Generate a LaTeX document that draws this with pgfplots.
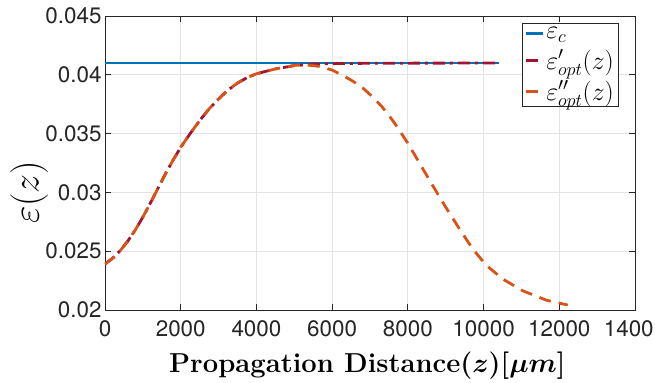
\RequirePackage{fix-cm}
\documentclass[border=0pt]{standalone}
\usepackage{fontspec}
\usepackage{pgfplots}
\pgfplotsset{compat=1.18}
\newfontfamily\helv{TeX Gyre Heros}
\definecolor{mblue}{HTML}{0072BD}
\definecolor{mred}{HTML}{A2142F}
\definecolor{morange}{HTML}{D95319}
\definecolor{axgray}{HTML}{262626}
\definecolor{grgray}{HTML}{E3E3E3}
\begin{document}
\begin{tikzpicture}
\begin{axis}[
  scale only axis,
  width=530bp, height=294bp,
  xmin=0, xmax=14000, ymin=0.02, ymax=0.045,
  xtick={0,2000,4000,6000,8000,10000,12000,14000},
  xticklabels={0,2000,4000,6000,8000,10000,12000,1400\phantom{0}},
  ytick={0.02,0.025,0.03,0.035,0.04,0.045},
  yticklabels={0.02,0.025,0.03,0.035,0.04,0.045},
  scaled x ticks=false, scaled y ticks=false,
  tick align=inside,
  major tick length=6bp,
  xtick pos=both, ytick pos=both,
  grid=major,
  major grid style={grgray, line width=0.8bp},
  axis line style={axgray, line width=0.9bp},
  tick style={axgray, line width=0.9bp},
  ticklabel style={font=\fontsize{22.5}{26}\helv, text=axgray},
  xticklabel style={yshift=-7bp},
  xlabel={\textbf{Propagation Distance}{\boldmath$(z)[\mu m]$}},
  xlabel style={font=\fontsize{27.5}{32}\selectfont, at={(axis description cs:0.495,-0.213)}, anchor=base},
  ylabel={$\varepsilon(z)$},
  ylabel style={font=\fontsize{38}{42}\selectfont, at={(axis description cs:-0.143,0.40)}, anchor=center},
  legend style={at={(axis description cs:0.968,0.976)}, anchor=north east,
    draw=axgray, font=\fontsize{26}{30}\selectfont,
    inner xsep=2pt, inner ysep=2pt, row sep=6bp},
  legend cell align=left,
]
\addplot[mblue, line width=2.6bp] coordinates {(0,0.04100) (10400,0.04100)};
\addlegendentry{$\varepsilon_c$}
\addplot[mred, line width=2.8bp, dash pattern=on 12bp off 5bp on 3bp off 5bp] coordinates {
(0,0.02391) (200,0.02440) (400,0.02504) (600,0.02585) (800,0.02680)
(1000,0.02790) (1200,0.02910) (1400,0.03035) (1600,0.03160) (1800,0.03275)
(2000,0.03384) (2250,0.03500) (2500,0.03610) (2750,0.03710) (3000,0.03795)
(3250,0.03870) (3500,0.03930) (3750,0.03975) (4000,0.04009) (4500,0.04050)
(5000,0.04078) (5500,0.04090) (6000,0.04095) (7000,0.04098) (8000,0.04099)
(10400,0.04100)};
\addlegendentry{$\varepsilon^{\prime}_{opt}(z)$}
\addplot[morange, line width=2.8bp, dash pattern=on 12bp off 8bp] coordinates {
(0,0.02391) (200,0.02440) (400,0.02504) (600,0.02585) (800,0.02680)
(1000,0.02790) (1200,0.02910) (1400,0.03035) (1600,0.03160) (1800,0.03275)
(2000,0.03384) (2250,0.03500) (2500,0.03610) (2750,0.03710) (3000,0.03795)
(3250,0.03870) (3500,0.03930) (3750,0.03975) (4000,0.04009) (4500,0.04050)
(5000,0.04080) (5250,0.04085) (5500,0.04078) (5675,0.04071) (6000,0.04040)
(6290,0.03994) (6550,0.03945) (6817,0.03886) (7050,0.03818) (7300,0.03735)
(7500,0.03655) (7652,0.03588) (8000,0.03418) (8312,0.03247) (8620,0.03077)
(8971,0.02890) (9323,0.02710) (9700,0.02525) (10071,0.02380) (10510,0.02263)
(11038,0.02163) (11654,0.02084) (12224,0.02042)};
\addlegendentry{$\varepsilon^{\prime\prime}_{opt}(z)$}
\end{axis}
\pgfresetboundingbox
\path[use as bounding box] ([shift={(-105bp,-73bp)}]current axis.south west) rectangle ([shift={(20bp,16bp)}]current axis.north east);
\end{tikzpicture}
\end{document}
